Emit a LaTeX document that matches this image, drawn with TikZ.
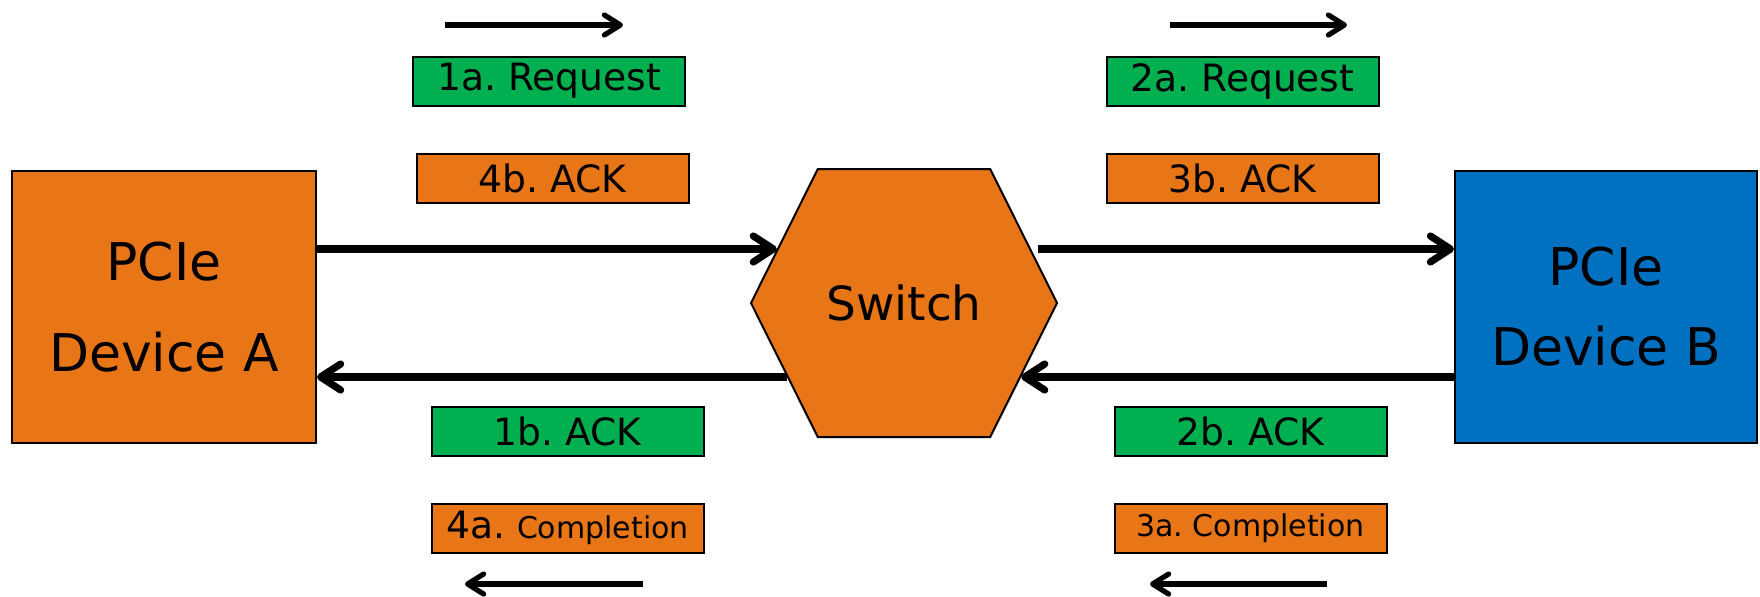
\documentclass[tikz,border=0pt]{standalone}
\usepackage{fontspec}
\setmainfont{DejaVu Sans}
\usetikzlibrary{calc,shapes.symbols,arrows.meta,positioning}
\frenchspacing

\definecolor{pcieorange}{RGB}{233,118,22}
\definecolor{pciegreen}{RGB}{0,176,80}
\definecolor{pcieblue}{RGB}{0,112,192}

\newcommand\cmpl{\fontsize{15}{18}\selectfont}

\tikzset{
  device/.style={draw,line width=1pt,inner sep=0pt,minimum width=152pt,minimum height=136pt,align=center},
  switchbox/.style={signal,signal to=west and east,signal pointer angle=127,draw,line width=1pt,fill=pcieorange,inner sep=0pt,minimum width=153pt,minimum height=134pt,font=\fontsize{23.5}{28}\selectfont},
  tlp/.style={draw,line width=1pt,inner sep=0pt,minimum width=136pt,minimum height=24.5pt,font=\fontsize{18.8}{20}\selectfont},
  link/.style={line width=3.6pt,-{Straight Barb[length=10pt,width=13pt,round]}},
  flow/.style={line width=2.6pt,-{Straight Barb[length=8pt,width=10pt,round]}}
}

\begin{document}
\begin{tikzpicture}[x=0.5pt,y=-0.5pt]
\useasboundingbox (0,0) rectangle (1760,596);

\node[device,fill=pcieorange,font=\fontsize{26}{45.5}\selectfont] (devA) at (164,307) {PCIe\\Device A};
\node[device,fill=pcieblue,minimum width=151pt,font=\fontsize{26}{40}\selectfont] (devB) at (1606,307) {PCIe\\Device B};
\node[switchbox] (switch) at (904,303) {Switch};

\foreach \name/\x/\y/\col/\txt in {
  req1/549/81/pciegreen/{1a. Request},
  ack4/552.5/178/pcieorange/{4b. ACK},
  req2/1242.5/81/pciegreen/{2a. Request},
  ack3/1242.5/178/pcieorange/{3b. ACK},
  ack1/567.5/431.5/pciegreen/{1b. ACK},
  cpl4/567.5/528/pcieorange/{4a. {\cmpl Completion}},
  ack2/1250.5/431.5/pciegreen/{2b. ACK},
  cpl3/1250.5/528/pcieorange/{\cmpl 3a. Completion}}
  \node[tlp,fill=\col] (\name) at (\x,\y) {\txt};

\coordinate (uprow) at (0,249);
\coordinate (lowrow) at (0,377);

\draw[link] (devA.east |- uprow) -- ($(switch.west)+(27,-54)$);
\draw[link,shorten <=3.5pt] ($(switch.east)+(-27,-54)$) -- (devB.west |- uprow);
\draw[link] (devB.west |- lowrow) -- ($(switch.east)+(-37,74)$);
\draw[link] ($(switch.west)+(37,74)$) -- (devA.east |- lowrow);

\coordinate (go1) at (445,25);
\coordinate (go2) at (1170,25);
\coordinate (back1) at (643,584);
\coordinate (back2) at (1327,584);
\draw[flow] (go1) -- ++(178,0);
\draw[flow] (go2) -- ++(177,0);
\draw[flow] (back1) -- ++(-178,0);
\draw[flow] (back2) -- ++(-177,0);

\end{tikzpicture}
\end{document}
